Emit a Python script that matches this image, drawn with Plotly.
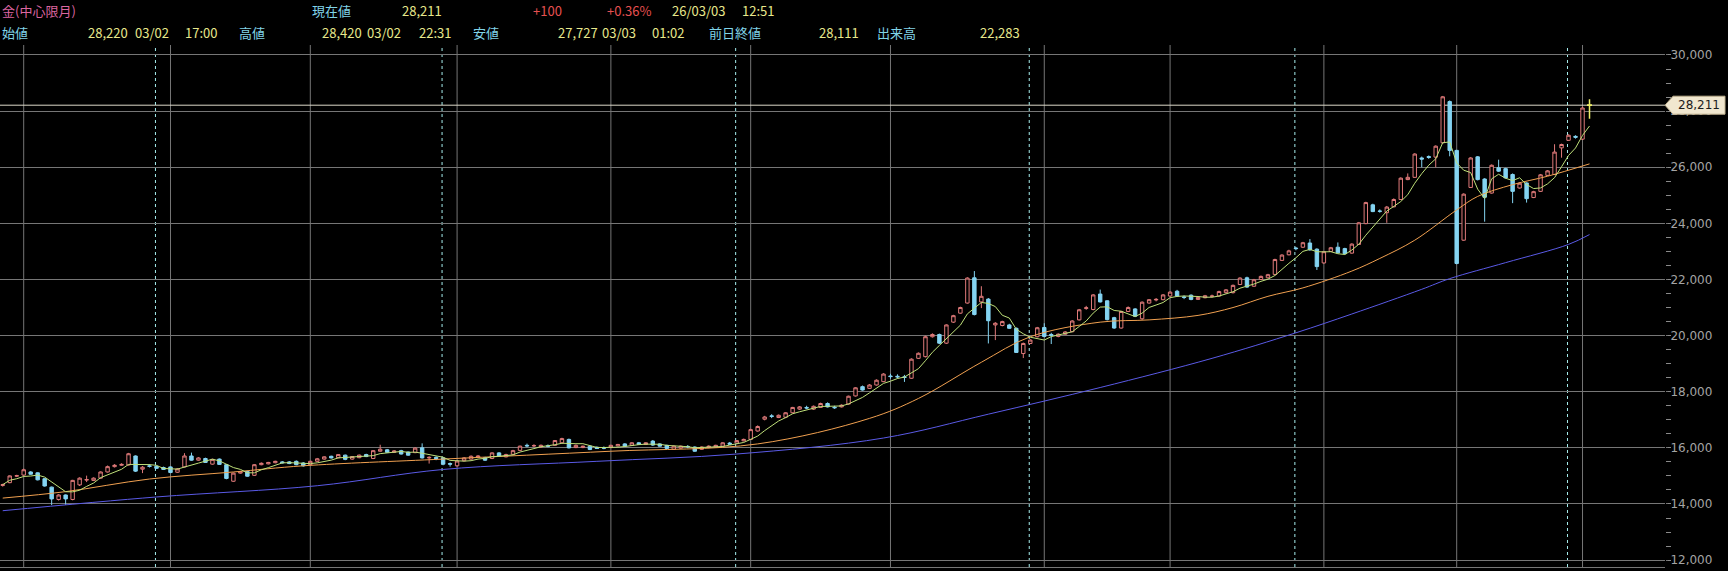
import plotly.graph_objects as go
import pandas as pd

# ---------------- data (daily candles, index 0 = 2025-03-27 ... 227 = 2026-03-03) ----------------
opens = [14660,14760,14990,15030,15140,15110,14900,14600,14160,14320,14160,14680,14850,14840,14920,15140,15330,15380,15390,15710,
         15240,15360,15340,15300,15320,15130,15320,15710,15560,15620,15420,15600,15400,14810,15100,15160,15020,15400,15430,15470,
         15500,15500,15520,15460,15400,15520,15600,15700,15650,15740,15600,15650,15760,15620,15880,15930,15840,15900,15850,15830,
         16000,15640,15660,15640,15440,15360,15540,15600,15660,15650,15620,15820,15680,15770,15910,16090,16070,16030,16070,16090,
         16180,16300,16010,16010,16060,16020,16000,16010,16070,16140,16090,16180,16120,16240,16140,16090,15950,15990,16050,16030,
         15950,16010,16030,16060,16170,16170,16250,16300,16600,17020,17140,17080,17090,17250,17380,17440,17380,17440,17580,17450,
         17460,17560,17850,18180,18120,18240,18360,18560,18550,18530,18480,19190,19250,19960,20040,19730,20480,20800,21160,22060,
         21200,21300,20380,20360,20380,20260,19360,19720,19960,20290,20040,19970,20050,20140,20560,20970,20930,21480,21240,20640,
         20270,20860,20950,20600,21160,21270,21280,21410,21580,21380,21440,21290,21350,21400,21410,21530,21530,21820,22060,21760,
         22000,22060,22180,22680,22880,23120,23150,23300,23080,22590,23000,23150,23100,22940,23250,23990,24660,24440,24380,24590,
         24850,25560,25640,26330,26380,26360,26870,28340,26600,23400,25280,26370,25580,25080,25980,25950,25740,25260,25440,24920,
         25140,25710,25740,26690,26960,27100,27000,28220]
highs = [14720,15020,15040,15260,15170,15130,14920,14620,14350,14340,14860,14950,15010,14950,15160,15370,15420,15450,15820,15730,
         15350,15420,15370,15330,15340,15280,15810,15830,15670,15650,15610,15620,15420,15120,15180,15180,15420,15480,15500,15540,
         15530,15530,15550,15490,15540,15640,15700,15720,15780,15760,15710,15760,15790,15920,16110,15960,15920,15930,15870,16020,
         16160,15700,15700,15660,15480,15550,15670,15730,15740,15680,15840,15850,15790,15930,16080,16150,16130,16120,16120,16280,
         16360,16330,16120,16080,16080,16050,16050,16110,16140,16170,16200,16210,16200,16280,16160,16110,16080,16080,16100,16050,
         16050,16090,16110,16200,16210,16280,16330,16680,16800,17140,17200,17190,17270,17460,17490,17500,17510,17610,17620,17500,
         17550,17860,18160,18220,18270,18440,18660,18640,18620,18600,19190,19400,20000,20080,20070,20400,20740,21030,22080,22300,
         21760,21340,20480,20530,20420,20290,19750,19870,20310,20440,20100,20080,20160,20550,20950,21060,21480,21640,21260,20670,
         20880,21040,20980,21220,21300,21340,21480,21580,21630,21430,21470,21380,21450,21460,21600,21660,21820,22080,22100,22020,
         22140,22200,22740,22900,23060,23160,23340,23440,23110,23010,23160,23320,23130,23290,24050,24770,24700,24500,24620,24890,
         25640,25780,26500,26380,26420,26780,28540,28380,26620,25070,26360,26400,25610,26100,26270,25980,25780,25460,25460,25160,
         25760,25900,26820,26840,27170,27140,28160,28420]
lows = [14620,14740,14960,15010,15040,14840,14620,13960,14120,13970,14130,14640,14780,14820,14900,15120,15300,15360,15370,15140,
        15100,15300,15250,15210,15100,15110,15300,15540,15540,15460,15400,15390,14880,14790,15080,14970,15000,15380,15410,15450,
        15440,15420,15380,15330,15380,15500,15580,15620,15630,15560,15580,15630,15670,15600,15860,15820,15820,15760,15720,15810,
        15620,15440,15560,15380,15330,15330,15520,15580,15640,15530,15600,15680,15660,15750,15890,16020,16030,16000,16020,16070,
        16160,15980,15990,15990,15920,15960,15950,15990,16050,16040,16070,16100,16100,16070,16040,15960,15930,15970,15990,15860,
        15930,15990,16010,16040,16100,16150,16230,16280,16580,16980,17060,17060,17060,17230,17350,17380,17350,17420,17440,17390,
        17440,17540,17830,18040,18100,18220,18340,18460,18470,18350,18460,19170,19220,19930,19700,19700,20450,20780,21140,20720,
        20980,19720,19840,20330,20240,19380,19200,19700,19940,19940,19700,19940,20030,20120,20540,20920,20900,21180,20540,20240,
        20250,20840,20660,20560,21140,21220,21260,21390,21380,21300,21260,21270,21330,21360,21390,21500,21500,21800,21700,21740,
        21980,22040,22150,22660,22860,23040,23120,23020,22340,22560,22980,22930,22890,22920,23230,23970,24400,24380,24020,24570,
        24830,25540,25620,26000,26300,26000,26850,26390,22540,23380,25260,25530,24060,25060,25830,25600,24720,25240,24740,24900,
        25120,25690,25720,26340,26940,27020,26970,27727]
closes = [14690,15000,15010,15220,15060,14860,14640,14180,14320,14180,14840,14920,14870,14920,15140,15330,15380,15410,15790,15170,
          15310,15340,15270,15230,15120,15250,15710,15560,15640,15480,15590,15410,14910,15100,15150,14990,15400,15450,15480,15520,
          15470,15440,15400,15360,15520,15610,15680,15640,15760,15590,15690,15740,15690,15900,15950,15840,15890,15780,15740,15990,
          15640,15660,15620,15420,15420,15530,15640,15700,15710,15560,15820,15710,15760,15900,16060,16070,16080,16090,16060,16260,
          16330,16000,16090,16060,15940,15980,15990,16090,16120,16060,16180,16120,16180,16100,16060,15980,16060,16060,16040,15880,
          16030,16060,16090,16180,16130,16260,16300,16650,16760,17100,17120,17160,17250,17440,17460,17420,17480,17580,17460,17430,
          17520,17840,18140,18060,18240,18410,18630,18540,18530,18510,19160,19370,19960,20040,19730,20380,20710,21000,22050,20750,
          21400,20530,20440,20500,20260,19400,19720,19840,20280,19970,20010,20050,20130,20520,20920,20990,21450,21200,20570,20270,
          20860,21000,20690,21190,21280,21290,21450,21550,21410,21360,21290,21360,21420,21410,21570,21630,21790,22050,21730,21990,
          22110,22170,22710,22870,23020,23100,23310,23060,22460,22990,23130,22950,22920,23260,24020,24740,24420,24430,24580,24850,
          25610,25640,26470,26290,26350,26750,28510,26600,22570,25040,26330,25560,24930,26070,25860,25620,25140,25430,24880,25130,
          25730,25870,26540,26810,27140,27070,28111,28211]

# moving averages (index, value)
ma25_idx = [0, 9, 21, 33, 43, 63, 87, 108, 124, 131, 140, 147, 157, 164, 171, 176, 181, 186, 193, 197, 202, 208, 211, 216, 221, 227]
ma25_val = [14210, 14440, 14890, 15140, 15360, 15600, 15880, 16140, 17050, 17760, 19050, 19960, 20480, 20560, 20720, 21000,
            21400, 21700, 22300, 22750, 23400, 24480, 24960, 25380, 25680, 26120]
ma75_idx = [0, 22, 45, 63, 85, 105, 126, 141, 157, 173, 185, 193, 203, 207, 215, 224, 227]
ma75_val = [13760, 14250, 14650, 15230, 15520, 15780, 16350, 17200, 18150, 19190, 20100, 20770, 21650, 22030, 22600, 23250, 23600]

month_start_idx = [3, 24, 44, 65, 87, 107, 127, 149, 167, 189, 208, 226]
roll_idx = [22, 63, 105, 147, 185, 224]

y_ticks = list(range(12000, 30001, 2000))
last_price = 28211

header_row1 = [("金(中心限月)", 0, "title"), ("現在値", 310, "label"), ("28,211", 400, "value"),
               ("+100", 531, "red"), ("+0.36%", 605, "red"), ("26/03/03", 670, "value"), ("12:51", 740, "value")]
header_row2 = [("始値", 0, "label"), ("28,220", 86, "value"), ("03/02", 133, "value"), ("17:00", 183, "value"),
               ("高値", 237, "label"), ("28,420", 320, "value"), ("03/02", 365, "value"), ("22:31", 417, "value"),
               ("安値", 471, "label"), ("27,727", 556, "value"), ("03/03", 600, "value"), ("01:02", 650, "value"),
               ("前日終値", 707, "label"), ("28,111", 817, "value"), ("出来高", 875, "label"), ("22,283", 978, "value")]

# ---------------- figure ----------------
W, H = 1728, 571
ML, MR, MT, MB = 0, 63, 45, 4
PW, PH = W - ML - MR, H - MT - MB

n = len(closes)
xs = list(range(n))
ma5 = pd.Series(closes).rolling(5, min_periods=1).mean().tolist()

UP = "#e07a7a"
DOWN = "#84d4f2"
fig = go.Figure()
fig.add_trace(go.Candlestick(
    x=xs[:-1], open=opens[:-1], high=highs[:-1], low=lows[:-1], close=closes[:-1],
    increasing=dict(line=dict(color=UP, width=1), fillcolor="#000000"),
    decreasing=dict(line=dict(color=DOWN, width=1), fillcolor=DOWN),
    whiskerwidth=0, showlegend=False, hoverinfo="skip"))
fig.add_trace(go.Candlestick(
    x=xs[-1:], open=opens[-1:], high=highs[-1:], low=lows[-1:], close=closes[-1:],
    increasing=dict(line=dict(color="#eeee66", width=1.5), fillcolor="#eeee66"),
    decreasing=dict(line=dict(color="#eeee66", width=1.5), fillcolor="#eeee66"),
    whiskerwidth=0, showlegend=False, hoverinfo="skip"))

fig.add_trace(go.Scatter(x=ma75_idx, y=ma75_val, mode="lines", line=dict(color="#5a5ae6", width=1, shape="spline"),
                         showlegend=False, hoverinfo="skip"))
fig.add_trace(go.Scatter(x=ma25_idx, y=ma25_val, mode="lines", line=dict(color="#f0a050", width=1, shape="spline"),
                         showlegend=False, hoverinfo="skip"))
fig.add_trace(go.Scatter(x=xs, y=ma5, mode="lines", line=dict(color="#bfe07a", width=1),
                         showlegend=False, hoverinfo="skip"))

GRID = "#767676"
shapes = []
for m in month_start_idx:
    shapes.append(dict(type="line", xref="x", yref="paper", x0=m, x1=m, y0=0, y1=1,
                       line=dict(color=GRID, width=1), layer="below"))
for r in roll_idx:
    shapes.append(dict(type="line", xref="x", yref="paper", x0=r - 0.15, x1=r - 0.15, y0=0, y1=1,
                       line=dict(color="#a6eeee", width=1, dash="dot"), layer="below"))
# current price line
shapes.append(dict(type="line", xref="paper", yref="y", x0=0, x1=1, y0=last_price, y1=last_price,
                   line=dict(color="#dcd8c8", width=1), layer="below"))
# price tag
shapes.append(dict(type="path", xref="paper", yref="y", xsizemode="pixel", ysizemode="pixel",
                   xanchor=1, yanchor=last_price,
                   path="M0,0 L8,9 L60,9 L60,-9 L8,-9 Z",
                   fillcolor="#f1e7cf", line=dict(color="#bfb08e", width=1), layer="above"))

def px_x(px):
    return (px - ML) / PW

def px_y(py):
    return (H - MB - py) / PH

colors = {"title": "#dc66a0", "label": "#80d4e8", "value": "#e8e88c", "red": "#e65050"}
HFONT = "Noto Sans CJK JP"
annotations = []
for row, yy in ((header_row1, 10), (header_row2, 32)):
    for text, xpx, kind in row:
        annotations.append(dict(text=text, xref="paper", yref="paper", x=px_x(xpx), y=px_y(yy),
                                xanchor="left", yanchor="middle", showarrow=False,
                                font=dict(family=HFONT, size=13, color=colors[kind])))
annotations.append(dict(text=f"{last_price:,}", xref="paper", yref="y", x=px_x(PW + 34), y=last_price,
                        xanchor="center", yanchor="middle", showarrow=False,
                        font=dict(family="DejaVu Sans", size=12, color="#1c1c1c")))

fig.update_layout(
    width=W, height=H, autosize=False,
    margin=dict(l=ML, r=MR, t=MT, b=MB, pad=0),
    paper_bgcolor="#000000", plot_bgcolor="#000000",
    shapes=shapes, annotations=annotations, showlegend=False,
    xaxis=dict(range=[-0.39, 237.8], showgrid=False, zeroline=False, showticklabels=False,
               rangeslider=dict(visible=False), showline=True, linecolor=GRID, linewidth=1, ticks=""),
    yaxis=dict(range=[11754, 30356], side="right", tickvals=y_ticks, tickformat=",d",
               showgrid=True, gridcolor=GRID, gridwidth=1, zeroline=False,
               ticks="outside", ticklen=2, tickcolor=GRID,
               tickfont=dict(family="DejaVu Sans", size=12, color="#a4a4a4"),
               minor=dict(dtick=500, tick0=0, ticks="outside", ticklen=5, tickcolor="#8a8a8a", showgrid=False)),
)

fig.write_html("out.html", config={"displayModeBar": False},
               post_script="document.body.style.margin='0';document.body.style.overflow='hidden';"
                           "document.body.style.background='#000';")
